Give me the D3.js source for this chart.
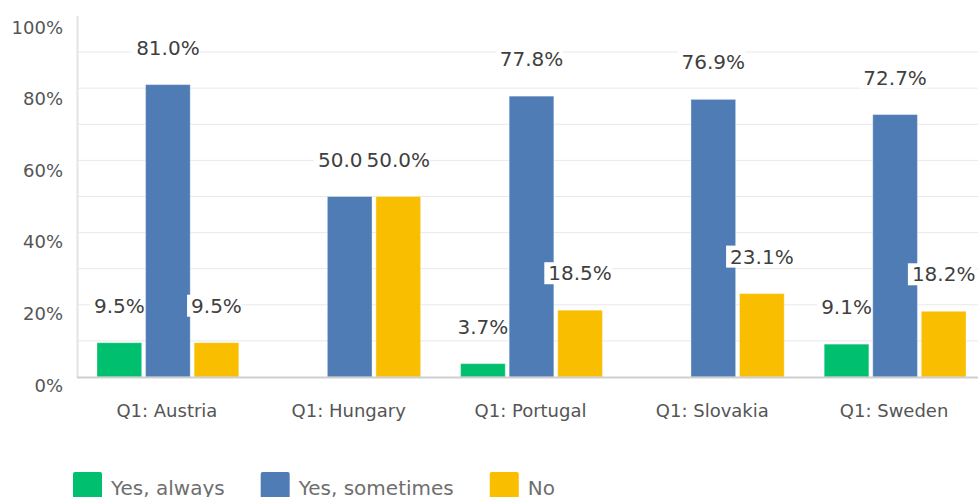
<!DOCTYPE html>
<html>
  <head>
    <meta charset="UTF-8" />
    <style>
      body {
        margin: 0;
        background: #fff;
      }
      svg {
        display: block;
        font-family: "DejaVu Sans", sans-serif;
      }
    </style>
  </head>
  <body>
    <svg></svg>
    <script src="https://d3js.org/d3.v7.min.js"></script>
    <script>
      let width = 978,
        height = 497;

      // data
      let countries = ["Q1: Austria", "Q1: Hungary", "Q1: Portugal", "Q1: Slovakia", "Q1: Sweden"];
      let seriesNames = ["Yes, always", "Yes, sometimes", "No"];
      let yesAlways = [9.5, 0, 3.7, 0, 9.1];
      let yesSometimes = [81.0, 50.0, 77.8, 76.9, 72.7];
      let no = [9.5, 50.0, 18.5, 23.1, 18.2];
      let yTicks = [0, 20, 40, 60, 80, 100];
      let colors = ["#00BF6F", "#507CB6", "#F9BE00"];

      let seriesValues = [yesAlways, yesSometimes, no];

      let svg = d3.select("svg").attr("width", width).attr("height", height);

      let x = d3.scaleBand().domain(countries).range([77, 986]).padding(0);
      let xSub = d3
        .scaleBand()
        .domain(seriesNames)
        .range([20, x.bandwidth() - 20])
        .paddingInner(0.08)
        .paddingOuter(0);
      let y = d3.scaleLinear().domain([0, 100]).range([377, 16]);
      let color = d3.scaleOrdinal().domain(seriesNames).range(colors);

      // gridlines
      svg
        .append("g")
        .selectAll("line")
        .data(d3.range(10, 100, 10))
        .enter()
        .append("line")
        .attr("x1", 77)
        .attr("x2", width)
        .attr("y1", (d) => y(d))
        .attr("y2", (d) => y(d))
        .attr("stroke", "#e9e9e9")
        .attr("stroke-width", 1);

      // left axis line
      svg
        .append("line")
        .attr("x1", 77.5)
        .attr("x2", 77.5)
        .attr("y1", y(100))
        .attr("y2", y(0))
        .attr("stroke", "#e3e3e3")
        .attr("stroke-width", 2);

      // y tick labels (they sit a bit below their lines in the original)
      svg
        .append("g")
        .selectAll("text")
        .data(yTicks)
        .enter()
        .append("text")
        .attr("x", 63)
        .attr("y", (d) => y(d) + 8 + (d / 100) * 3)
        .attr("text-anchor", "end")
        .attr("dominant-baseline", "central")
        .attr("font-size", 18)
        .attr("fill", "#555")
        .text((d) => d + "%");

      // flat table for bars
      let rows = [];
      seriesValues.forEach((vals, si) => {
        vals.forEach((v, ci) => {
          rows.push({ country: countries[ci], series: seriesNames[si], value: v });
        });
      });

      svg
        .append("g")
        .selectAll("rect")
        .data(rows.filter((d) => d.value > 0))
        .enter()
        .append("rect")
        .attr("x", (d) => x(d.country) + xSub(d.series))
        .attr("y", (d) => y(d.value))
        .attr("width", xSub.bandwidth())
        .attr("height", (d) => y(0) - y(d.value))
        .attr("fill", (d) => color(d.series))
        .attr("stroke", "#fff")
        .attr("stroke-opacity", 0.35)
        .attr("stroke-width", 1);

      // baseline
      svg
        .append("line")
        .attr("x1", 77)
        .attr("x2", width)
        .attr("y1", y(0) + 0.5)
        .attr("y2", y(0) + 0.5)
        .attr("stroke", "#cfcfcf")
        .attr("stroke-width", 2);

      // value labels with white boxes, drawn over bars
      let labels = svg
        .append("g")
        .selectAll("g")
        .data(rows.filter((d) => d.value > 0))
        .enter()
        .append("g")
        .attr("transform", (d) => {
          let cx = x(d.country) + xSub(d.series) + xSub.bandwidth() / 2;
          return "translate(" + cx + "," + (y(d.value) - 37) + ")";
        });

      labels
        .append("text")
        .attr("text-anchor", "middle")
        .attr("dominant-baseline", "central")
        .attr("font-size", 20)
        .attr("fill", "#3f3f3f")
        .text((d) => d.value.toFixed(1) + "%");

      labels.each(function () {
        let g = d3.select(this);
        let bb = g.select("text").node().getBBox();
        g.insert("rect", "text")
          .attr("x", bb.x - 4)
          .attr("y", bb.y + 1)
          .attr("width", bb.width + 4)
          .attr("height", bb.height - 2)
          .attr("fill", "#fff");
      });

      // category labels
      svg
        .append("g")
        .selectAll("text")
        .data(countries)
        .enter()
        .append("text")
        .attr("x", (d) => x(d) + x.bandwidth() / 2 - 1)
        .attr("y", 410)
        .attr("text-anchor", "middle")
        .attr("dominant-baseline", "central")
        .attr("font-size", 18)
        .attr("fill", "#555")
        .text((d) => d);

      // legend
      let legend = svg.append("g").attr("transform", "translate(73,472)");
      let lx = 0;
      seriesNames.forEach((s) => {
        let item = legend.append("g").attr("transform", "translate(" + lx + ",0)");
        item
          .append("rect")
          .attr("width", 29)
          .attr("height", 28)
          .attr("rx", 2)
          .attr("fill", color(s));
        let t = item
          .append("text")
          .attr("x", 38)
          .attr("y", 16)
          .attr("dominant-baseline", "central")
          .attr("font-size", 20)
          .attr("fill", "#6e6e6e")
          .text(s);
        lx += 38 + t.node().getComputedTextLength() + 36;
      });
    </script>
  </body>
</html>
